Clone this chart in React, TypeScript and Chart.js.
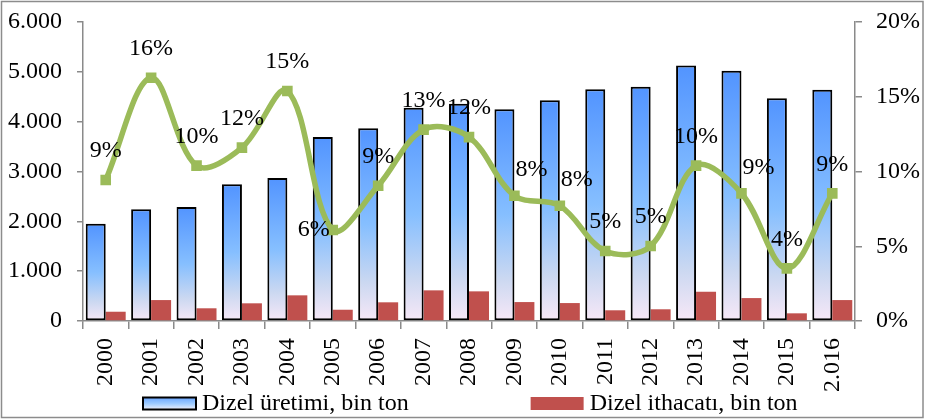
import React, { useEffect, useRef } from 'react';
import { Chart, registerables } from 'chart.js';

Chart.register(...registerables);

const years = ['2000', '2001', '2002', '2003', '2004', '2005', '2006', '2007', '2008', '2009', '2010', '2011', '2012', '2013', '2014', '2015', '2.016'];
const production = [1950, 2240, 2290, 2745, 2870, 3690, 3870, 4280, 4360, 4250, 4430, 4650, 4700, 5125, 5020, 4470, 4640];
const imports = [186, 420, 255, 355, 515, 226, 375, 615, 595, 380, 360, 215, 235, 587, 460, 154, 420];
const importShare = [9.43, 16.27, 10.39, 11.6, 15.38, 6.09, 9.05, 12.8, 12.3, 8.38, 7.71, 4.68, 5.02, 10.39, 8.54, 3.52, 8.54];
const productionLabel = 'Dizel üretimi, bin ton';
const importsLabel = 'Dizel ithacatı, bin ton';
const shareLabel = 'İthalat payı';

// label placement style per point (not data)
const labelPlacement = ['above', 'above', 'above', 'above', 'above', 'left', 'above', 'above', 'above', 'aboveRight', 'aboveRight', 'above', 'above', 'above', 'aboveRight', 'above', 'above'];

const FONT = '"Liberation Serif", "Times New Roman", serif';
const FS = 24;
const AXIS_GRAY = '#8a8a8a';

const fmtThousands = (v: number) => {
  const s = String(Math.round(v));
  return s.replace(/\B(?=(\d{3})+(?!\d))/g, '.');
};

const blueFill = (c: any) => {
  const chart = c.chart;
  const ys = chart.scales && chart.scales.y;
  if (!ys || c.raw == null || typeof c.raw !== 'number') return '#7ab2ff';
  const top = ys.getPixelForValue(c.raw);
  const base = ys.getPixelForValue(0);
  if (!isFinite(top) || !isFinite(base) || Math.abs(base - top) < 1) return '#7ab2ff';
  const g = chart.ctx.createLinearGradient(0, top, 0, base);
  g.addColorStop(0, '#5294ff');
  g.addColorStop(0.5, '#86bfff');
  g.addColorStop(0.8, '#cbd8f1');
  g.addColorStop(1, '#f7e8f7');
  return g;
};

const decorPlugin = {
  id: 'decor',
  beforeDraw(chart: any) {
    const { ctx, width, height } = chart;
    ctx.save();
    ctx.fillStyle = '#ffffff';
    ctx.fillRect(0, 0, width, height);
    ctx.strokeStyle = '#8c8c8c';
    ctx.lineWidth = 1.5;
    ctx.strokeRect(1.5, 1.5, 921.5, 416);
    ctx.restore();
  },
  afterDatasetsDraw(chart: any) {
    const { ctx } = chart;
    const meta = chart.getDatasetMeta(2);
    ctx.save();
    ctx.font = `${FS}px ${FONT}`;
    ctx.fillStyle = '#000';
    ctx.textAlign = 'center';
    ctx.textBaseline = 'middle';
    meta.data.forEach((pt: any, i: number) => {
      const v = chart.data.datasets[2].data[i] as number;
      const pos = labelPlacement[i];
      let dx = 0, dy = -29;
      if (pos === 'left') { dx = -19; dy = 0; }
      if (pos === 'aboveRight') { dx = 17; dy = -26; }
      ctx.fillText(`${Math.round(v)}%`, pt.x + dx, pt.y + dy);
    });
    ctx.restore();
  },
  afterDraw(chart: any) {
    const { ctx, chartArea } = chart;
    ctx.save();
    ctx.font = `${FS}px ${FONT}`;
    ctx.textBaseline = 'middle';
    ctx.textAlign = 'left';
    const boxW = 53, boxH = 12, gap = 6, itemGap = 122;
    const t1 = chart.data.datasets[0].label;
    const t2 = chart.data.datasets[1].label;
    const w1 = ctx.measureText(t1).width;
    let x = chartArea.left + 60;
    const yMid = 403.5;
    const g = ctx.createLinearGradient(0, yMid - boxH / 2, 0, yMid + boxH / 2);
    g.addColorStop(0, '#6aa6ff');
    g.addColorStop(0.5, '#9ccaff');
    g.addColorStop(1, '#eef0fb');
    ctx.fillStyle = g;
    ctx.fillRect(x, yMid - boxH / 2, boxW, boxH);
    ctx.strokeStyle = '#000';
    ctx.lineWidth = 2;
    ctx.strokeRect(x, yMid - boxH / 2, boxW, boxH);
    ctx.fillStyle = '#000';
    ctx.fillText(t1, x + boxW + gap, yMid);
    x += boxW + gap + w1 + itemGap;
    ctx.fillStyle = '#c0504d';
    ctx.fillRect(x, yMid - boxH / 2 - 0.5, boxW, boxH + 1);
    ctx.fillStyle = '#000';
    ctx.fillText(t2, x + boxW + gap, yMid);
    ctx.restore();
  },
};

export default function App() {
  const ref = useRef<HTMLCanvasElement>(null);
  useEffect(() => {
    if (!ref.current) return;
    const chart = new Chart(ref.current, {
      type: 'bar',
      data: {
        labels: years,
        datasets: [
          {
            type: 'bar',
            label: productionLabel,
            data: production,
            backgroundColor: blueFill,
            borderColor: '#000',
            borderWidth: 2,
            borderSkipped: false,
            yAxisID: 'y',
            order: 1,
            barPercentage: 1,
            categoryPercentage: 0.88,
          },
          {
            type: 'bar',
            label: importsLabel,
            data: imports,
            backgroundColor: '#c0504d',
            borderWidth: 0,
            yAxisID: 'y',
            order: 1,
            barPercentage: 1,
            categoryPercentage: 0.88,
          },
          {
            type: 'line',
            label: shareLabel,
            data: importShare,
            borderColor: '#9bbb59',
            backgroundColor: '#9bbb59',
            borderWidth: 5.5,
            tension: 0.35,
            pointStyle: 'rect',
            pointRadius: 7.5,
            pointBorderWidth: 0,
            pointBackgroundColor: '#9bbb59',
            yAxisID: 'y1',
            order: 0,
          } as any,
        ],
      },
      options: {
        responsive: false,
        animation: false,
        events: [],
        layout: { padding: { top: 22, left: 0, right: 0, bottom: 0 } },
        plugins: {
          legend: { display: false },
          tooltip: { enabled: false },
          title: { display: false },
        },
        scales: {
          x: {
            type: 'category',
            offset: true,
            grid: {
              offset: true,
              drawOnChartArea: false,
              drawTicks: true,
              tickLength: 8,
              color: AXIS_GRAY,
              lineWidth: 1.5,
            },
            border: { display: true, color: AXIS_GRAY, width: 1.5 },
            ticks: {
              autoSkip: false,
              minRotation: 90,
              maxRotation: 90,
              padding: 9,
              color: '#000',
              font: { family: FONT, size: FS },
            },
            afterFit: (s: any) => { s.height = 99; s.paddingLeft = 0; s.paddingRight = 0; },
          },
          y: {
            type: 'linear',
            position: 'left',
            min: 0,
            max: 6000,
            grid: {
              drawOnChartArea: false,
              drawTicks: true,
              tickLength: 6,
              color: AXIS_GRAY,
              lineWidth: 1.5,
            },
            border: { display: true, color: AXIS_GRAY, width: 1.5 },
            ticks: {
              stepSize: 1000,
              padding: 15,
              color: '#000',
              font: { family: FONT, size: FS },
              callback: (v: any) => fmtThousands(Number(v)),
            },
            afterFit: (s: any) => { s.width = 83; s.paddingTop = 0; s.paddingBottom = 0; },
          },
          y1: {
            type: 'linear',
            position: 'right',
            min: 0,
            max: 20,
            grid: {
              drawOnChartArea: false,
              drawTicks: true,
              tickLength: 7,
              color: AXIS_GRAY,
              lineWidth: 1.5,
            },
            border: { display: true, color: AXIS_GRAY, width: 1.5 },
            ticks: {
              stepSize: 5,
              padding: 14,
              color: '#000',
              font: { family: FONT, size: FS },
              callback: (v: any) => `${v}%`,
            },
            afterFit: (s: any) => { s.width = 73; s.paddingTop = 0; s.paddingBottom = 0; },
          },
        },
      } as any,
      plugins: [decorPlugin],
    });
    return () => chart.destroy();
  }, []);
  return (
    <div style={{ position: 'absolute', left: 0, top: 0, width: 928, height: 420 }}>
      <canvas ref={ref} width={928} height={420} style={{ display: 'block', width: 928, height: 420 }} />
    </div>
  );
}
